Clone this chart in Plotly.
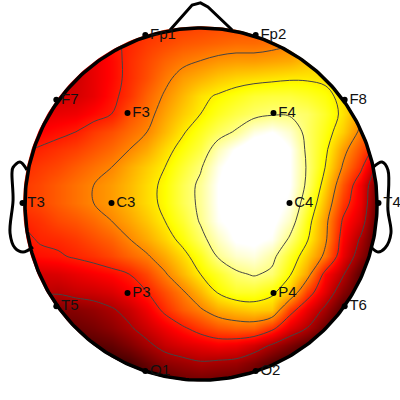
import numpy as np
import plotly.graph_objects as go

channels = ["Fp1","Fp2","F7","F8","F3","F4","T3","T4","C3","C4","T5","T6","P3","P4","O1","O2"]
chan_x = [-0.31,0.31,-0.81,0.81,-0.41,0.41,-1.0,1.0,-0.5,0.5,-0.81,0.81,-0.41,0.41,-0.31,0.31]
chan_y = [0.944,0.944,0.58,0.58,0.506,0.506,0.0,0.0,0.0,0.0,-0.58,-0.58,-0.506,-0.506,-0.944,-0.944]

grid_x = [round(-1.1 + 0.1*i, 1) for i in range(23)]
grid_y = [round(1.1 - 0.1*i, 1) for i in range(23)]

power = [
[40,40,40,40,40,40,40,41,42,43,44,45,46,46,47,48,50,52,54,56,60,60,60],
[40,40,40,40,40,40,40,41,42,43,44,45,46,46,47,48,50,52,54,56,60,60,60],
[38,38,38,38,38,38,39,41,44,46,48,49,50,51,51,52,54,57,62,66,68,68,68],
[30,30,30,31,31,33,37,42,46,50,53,55,57,58,58,59,60,63,66,70,72,72,72],
[26,26,27,27,29,33,37,42,47,53,58,61,64,66,67,68,69,69,68,68,68,68,68],
[28,28,28,29,30,33,38,43,50,56,62,68,71,74,77,78,78,76,73,67,62,60,60],
[32,32,32,33,34,37,40,47,52,59,65,70,75,79,82,84,84,82,76,68,58,55,55],
[35,35,36,38,40,44,47,51,55,62,69,75,81,86,94,97,92,82,74,65,53,48,48],
[38,39,41,43,45,48,51,55,60,67,73,79,90,98,104,105,97,83,72,58,47,36,32],
[41,42,44,46,49,52,55,60,65,70,77,84,95,102,105,105,97,84,70,54,42,22,18],
[43,44,46,49,52,55,58,62,67,72,80,87,97,103,106,105,97,83,66,48,34,14,12],
[43,44,46,49,52,55,58,62,67,72,80,87,97,103,104,102,95,79,62,44,33,12,10],
[40,41,43,46,48,51,55,59,64,70,77,86,96,100,102,99,91,74,58,39,30,10,8],
[37,38,41,42,44,47,50,55,60,66,73,82,91,98,99,96,84,71,57,36,24,9,7],
[35,36,38,39,41,43,46,50,54,60,67,75,86,92,94,88,76,65,53,33,20,8,6],
[28,29,30,31,33,35,37,40,46,54,62,70,76,83,86,83,71,59,37,26,12,8,6],
[27,27,27,26,28,29,31,35,40,47,54,62,71,76,76,72,64,45,32,19,10,6,5],
[14,15,16,18,19,21,24,28,34,42,49,54,60,63,65,64,44,33,23,11,7,5,4],
[12,12,13,14,15,17,20,24,29,34,39,44,48,50,50,43,32,25,15,8,5,4,3],
[9,9,10,10,11,12,14,18,23,28,31,33,35,34,30,24,18,12,7,4,3,3,3],
[7,7,7,7,7,7,8,10,15,20,22,24,23,22,18,12,7,5,4,3,3,3,3],
[5,5,5,5,5,5,5,6,9,12,15,16,15,14,11,7,4,3,3,3,3,3,3],
[3,3,3,3,3,3,3,3,5,8,10,11,10,9,7,5,3,3,3,3,3,3,3],
]

nose_x = [-0.171,-0.047,0.0,0.042,0.178]
nose_y = [0.972,1.112,1.124,1.101,0.972]
ear_left_x = [-0.975,-1.014,-1.053,-1.059,-1.053,-1.07,-1.042,-0.997,-0.941]
ear_left_y = [0.185,0.23,0.20,0.17,0.017,-0.169,-0.253,-0.275,-0.247]
ear_right_x = [0.969,1.02,1.053,1.053,1.07,1.037,0.997,0.963]
ear_right_y = [0.20,0.23,0.185,-0.04,-0.169,-0.253,-0.275,-0.253]

hot = [[0,"#000000"],[0.36,"#ff0000"],[0.72,"#ffff00"],[0.97,"#ffffff"],[1,"#ffffff"]]

t = np.linspace(0, 2*np.pi, 361)
disc_x = 0.997*np.cos(t)
disc_y = 0.997*np.sin(t) - 0.004
mask_x = list(disc_x) + [0.997, 2, 2, -2, -2, 2, 2, 0.997]
mask_y = list(disc_y) + [-0.004, -0.004, -2, -2, 2, 2, -0.004, -0.004]

head_x = 0.003 + 0.989*np.cos(t)
head_y = -0.006 + 0.989*np.sin(t)

fig = go.Figure()
fig.add_trace(go.Heatmap(x=grid_x, y=grid_y, z=power, colorscale=hot, zmin=0, zmax=100,
                         zsmooth="best", showscale=False, hoverinfo="skip"))
fig.add_trace(go.Contour(x=grid_x, y=grid_y, z=power, showscale=False, hoverinfo="skip",
                         contours=dict(coloring="lines", start=25, end=85, size=15),
                         colorscale=[[0,"#444444"],[1,"#444444"]],
                         line=dict(width=1, smoothing=1.0, color="#444444")))
fig.add_trace(go.Scatter(x=mask_x, y=mask_y, mode="lines", fill="toself",
                         fillcolor="#ffffff", line=dict(width=0), hoverinfo="skip"))
black = dict(color="#000000", width=3)
fig.add_trace(go.Scatter(x=head_x, y=head_y, mode="lines", line=dict(color="#000000", width=3.5), hoverinfo="skip"))
fig.add_trace(go.Scatter(x=nose_x, y=nose_y, mode="lines", line=black, hoverinfo="skip"))
fig.add_trace(go.Scatter(x=ear_left_x, y=ear_left_y, mode="lines", line=dict(shape="spline", **black), hoverinfo="skip"))
fig.add_trace(go.Scatter(x=ear_right_x, y=ear_right_y, mode="lines", line=dict(shape="spline", **black), hoverinfo="skip"))
fig.add_trace(go.Scatter(x=chan_x, y=chan_y, mode="markers+text", text=channels,
                         textposition="middle right", cliponaxis=False,
                         marker=dict(color="#000000", size=6),
                         textfont=dict(family="Liberation Sans", size=15, color="#111111"),
                         hoverinfo="skip"))

fig.update_layout(width=400, height=400, margin=dict(l=0, r=0, t=0, b=0),
                  paper_bgcolor="#ffffff", plot_bgcolor="#ffffff", showlegend=False,
                  xaxis=dict(range=[-1.1264,1.1208], visible=False, fixedrange=True),
                  yaxis=dict(range=[-1.1067,1.1404], visible=False, fixedrange=True))
fig.write_html("out.html", config={"displayModeBar": False},
               post_script="document.body.style.margin='0';")
